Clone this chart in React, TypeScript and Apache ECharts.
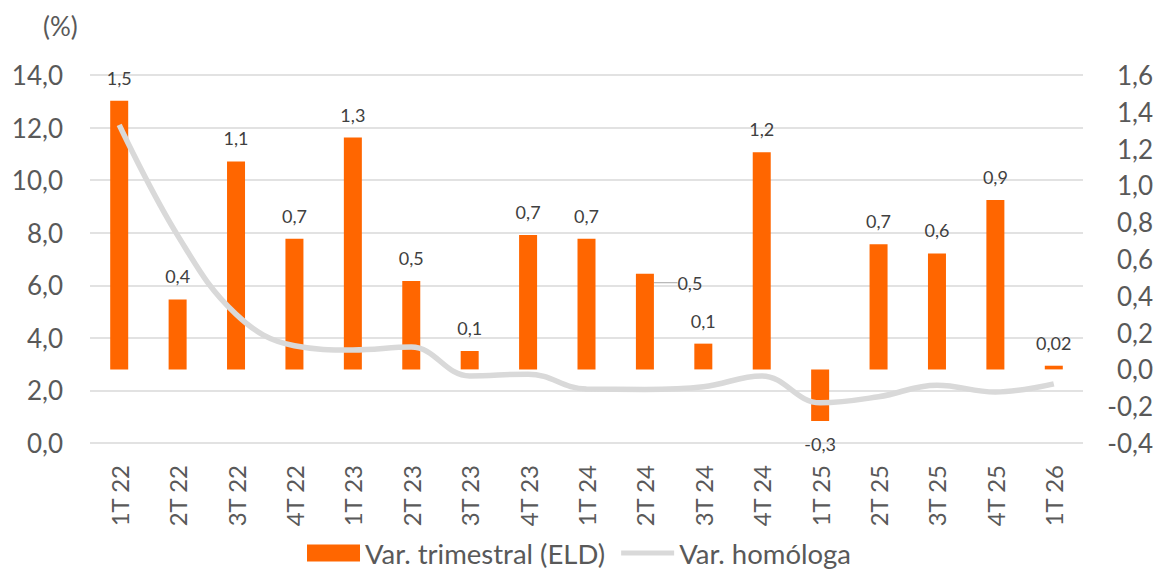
import React, { useEffect, useRef } from "react";
import * as echarts from "echarts";

const categories = ["1T 22", "2T 22", "3T 22", "4T 22", "1T 23", "2T 23", "3T 23", "4T 23", "1T 24", "2T 24", "3T 24", "4T 24", "1T 25", "2T 25", "3T 25", "4T 25", "1T 26"];
const quarterly = [1.46, 0.38, 1.13, 0.71, 1.26, 0.48, 0.1, 0.73, 0.71, 0.52, 0.14, 1.18, -0.28, 0.68, 0.63, 0.92, 0.02];
const yearly = [12.1, 7.9, 4.9, 3.7, 3.54, 3.65, 2.55, 2.62, 2.05, 2.04, 2.14, 2.55, 1.53, 1.76, 2.2, 1.94, 2.25];

const FONT = "Lato, 'Open Sans', sans-serif";
const fmt = (v: number, d: number) => v.toFixed(d).replace(".", ",");
const LINE_ICON = "path://M0,0 L0,0.01 M0,6 L54,6 L54,11 L0,11 Z M54,17 L54,17.01";

export default function App() {
  const ref = useRef<HTMLDivElement>(null);
  useEffect(() => {
    if (!ref.current) return;
    const chart = echarts.init(ref.current, undefined, { renderer: "svg" });
    chart.setOption({
      animation: false,
      backgroundColor: "#ffffff",
      textStyle: { fontFamily: FONT },
      grid: { left: 90, right: 75, top: 75, bottom: 131 },
      graphic: [
        {
          type: "text",
          left: 43,
          top: 13,
          style: { text: "(%)", font: `26px ${FONT}`, fill: "#595959" },
        },
      ],
      legend: {
        bottom: 2,
        left: "center",
        itemWidth: 53,
        itemHeight: 17,
        itemGap: 16,
        textStyle: { fontSize: 27.5, color: "#595959", fontFamily: FONT },
        data: [
          { name: "Var. trimestral (ELD)", icon: "rect" },
          { name: "Var. homóloga", icon: LINE_ICON },
        ],
      },
      xAxis: {
        type: "category",
        data: categories,
        axisLine: { show: false },
        axisTick: { show: false },
        axisLabel: { rotate: 90, fontSize: 24, color: "#595959", margin: 22, fontFamily: FONT },
      },
      yAxis: [
        {
          type: "value",
          min: 0,
          max: 14,
          interval: 2,
          axisLabel: { fontSize: 26, color: "#595959", margin: 27, formatter: (v: number) => fmt(v, 1), fontFamily: FONT },
          splitLine: { lineStyle: { color: "#D9D9D9", width: 1.5 } },
          axisLine: { show: false },
          axisTick: { show: false },
        },
        {
          type: "value",
          min: -0.4,
          max: 1.6,
          interval: 0.2,
          axisLabel: { fontSize: 26, color: "#595959", margin: 70, align: "right", formatter: (v: number) => fmt(v, 1), fontFamily: FONT },
          splitLine: { show: false },
          axisLine: { show: false },
          axisTick: { show: false },
        },
      ],
      series: [
        {
          name: "Var. trimestral (ELD)",
          type: "bar",
          yAxisIndex: 1,
          barWidth: 18,
          itemStyle: { color: "#FF6600" },
          z: 2,
          label: {
            show: true,
            position: "top",
            distance: 14,
            fontSize: 18,
            color: "#404040",
            fontFamily: FONT,
            formatter: (p: any) => fmt(p.value, Math.abs(p.value) < 0.05 ? 2 : 1),
          },
          labelLayout: (p: any) => (p.dataIndex === 9 ? { dx: 45, dy: 32 } : {}),
          data: quarterly.map((v, i) => {
            if (v < 0) return { value: v, label: { position: "bottom" } };
            if (i === 9) return { value: v, labelLine: { show: true, lineStyle: { color: "#A6A6A6", width: 1 } } };
            return v;
          }),
        },
        {
          name: "Var. homóloga",
          type: "line",
          yAxisIndex: 0,
          smooth: 0.4,
          symbol: "none",
          z: 3,
          lineStyle: { color: "#D9D9D9", width: 5.5 },
          itemStyle: { color: "#D9D9D9" },
          data: yearly,
        },
      ],
    });
    return () => chart.dispose();
  }, []);
  return <div ref={ref} style={{ position: "absolute", left: 0, top: 0, width: 1158, height: 574 }} />;
}
